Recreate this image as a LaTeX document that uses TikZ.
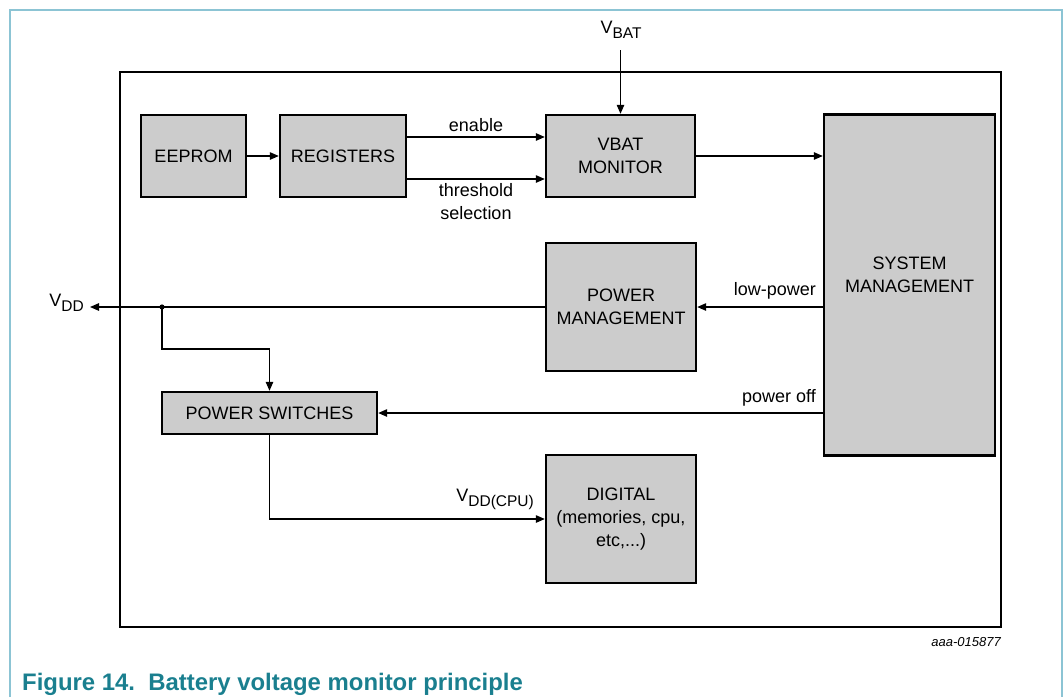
\documentclass[tikz,border=0pt]{standalone}
\usepackage{fontspec}
\setmainfont{Liberation Sans}
\usetikzlibrary{arrows.meta,calc}
\definecolor{boxgray}{HTML}{CCCCCC}
\definecolor{framecol}{HTML}{8CC4D4}
\definecolor{captioncol}{HTML}{1A7F8F}
\newcommand{\sub}[1]{\raisebox{-0.3em}{\fontsize{15.5}{15.5}\selectfont #1}}
\tikzset{
  blk/.style={draw, fill=boxgray, line width=2.4pt, align=center, inner sep=0pt,
    font=\fontsize{18}{23}\selectfont},
  arr/.style={line width=1.2pt, -{Triangle[length=9pt,width=7.5pt]}},
  wire/.style={line width=1.2pt},
  lbl/.style={font=\fontsize{18}{23}\selectfont, inner sep=0pt, align=center}
}
\begin{document}
\begin{tikzpicture}[x=1pt,y=-1pt]
\useasboundingbox (0,0) rectangle (1064,697);
% page frame
\draw[framecol, line width=1.2pt] (10,697) -- (10,10) -- (1062,10) -- (1062,697);
% outer block
\draw[line width=2.8pt] (120,72) rectangle (1001,627);
% blocks
\node[blk, minimum width=105pt, minimum height=82pt] (ee) at (193.5,156) {EEPROM};
\node[blk, minimum width=126pt, minimum height=82pt] (reg) at (343,156) {REGISTERS};
\node[blk, minimum width=149pt, minimum height=82pt] (vbat) at (620.5,156) {VBAT\\MONITOR};
\node[blk, minimum width=171pt, minimum height=341pt] (sm) at (909.5,285) {};
\node[lbl] (smt) at (909.5,275) {SYSTEM\\MANAGEMENT};
\node[blk, minimum width=150pt, minimum height=128pt] (pm) at (621,307) {POWER\\MANAGEMENT};
\node[blk, minimum width=215pt, minimum height=42pt] (ps) at (269.5,413) {POWER SWITCHES};
\node[blk, minimum width=150pt, minimum height=128pt] (dig) at (621,519) {DIGITAL\\(memories, cpu,\\etc,...)};
% connectors
\draw[arr] (ee.east) -- (reg.west);
\draw[arr] ($(reg.east)+(0,-19)$) -- ($(vbat.west)+(0,-19)$);
\node[lbl] (en) at (476,125) {enable};
\draw[arr] ($(reg.east)+(0,23)$) -- ($(vbat.west)+(0,23)$);
\node[lbl] (th) at (476,202) {threshold\\selection};
\coordinate (vin) at (620.5,50);
\draw[arr] (vin) -- (vbat.north);
\node[lbl] (vbl) at (621,30) {V\sub{BAT}};
\draw[arr] (vbat.east) -- (vbat.east -| sm.west);
\draw[arr] (sm.west |- pm.east) -- (pm.east);
\node[lbl, anchor=south east] (lp) at (816,299) {low-power};
\coordinate (vdd) at (90,307);
\draw[arr] (pm.west) -- (vdd);
\node[lbl, anchor=east] (vddl) at (84,303) {V\sub{DD}};
\coordinate (j) at (162,307);
\fill (j) circle (2.6pt);
\draw[arr] (j) -- ++(0,42) -| (ps.north);
\draw[arr] (sm.west |- ps.east) -- (ps.east);
\node[lbl, anchor=south east] (po) at (816,406) {power off};
\draw[arr] (ps.south) |- (dig.west);
\node[lbl, anchor=south east] (vcpu) at (534,510) {V\sub{DD(CPU)}};
% ids and caption
\node[font=\fontsize{13}{13}\selectfont\itshape, anchor=east, inner sep=0pt] (id) at (1001,642) {aaa-015877};
\node[font=\fontsize{23.9}{24}\selectfont\bfseries, text=captioncol, anchor=west, inner sep=0pt] (cap) at (22,684) {Figure 14.\ \ Battery voltage monitor principle};
\end{tikzpicture}
\end{document}
